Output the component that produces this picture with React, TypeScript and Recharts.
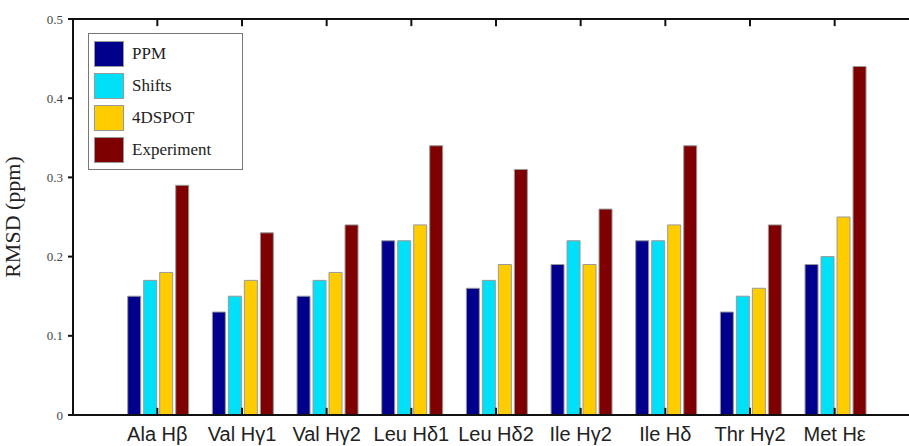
import { BarChart, Bar, XAxis, YAxis, ReferenceLine } from 'recharts';

const categories = ['Ala Hβ', 'Val Hγ1', 'Val Hγ2', 'Leu Hδ1', 'Leu Hδ2', 'Ile Hγ2', 'Ile Hδ', 'Thr Hγ2', 'Met Hε'];
const ppm = [0.15, 0.13, 0.15, 0.22, 0.16, 0.19, 0.22, 0.13, 0.19];
const shifts = [0.17, 0.15, 0.17, 0.22, 0.17, 0.22, 0.22, 0.15, 0.2];
const spot4d = [0.18, 0.17, 0.18, 0.24, 0.19, 0.19, 0.24, 0.16, 0.25];
const experiment = [0.29, 0.23, 0.24, 0.34, 0.31, 0.26, 0.34, 0.24, 0.44];
const yTicks = [0, 0.1, 0.2, 0.3, 0.4, 0.5];

const series = [
    { key: 'ppm', name: 'PPM', color: '#00008c' },
    { key: 'shifts', name: 'Shifts', color: '#00e0f8' },
    { key: 'spot', name: '4DSPOT', color: '#ffcc00' },
    { key: 'exp', name: 'Experiment', color: '#7f0000' },
];

const data = categories.map((name, i) => ({
    name,
    ppm: ppm[i],
    shifts: shifts[i],
    spot: spot4d[i],
    exp: experiment[i],
}));

const serif = '"Liberation Serif", "Times New Roman", serif';
const sans = '"Liberation Sans", Arial, sans-serif';

// inward tick length in data units (~7px)
const TICK = 0.009;

function LegendBox() {
    return (
        <div style={{ position: 'absolute', left: 88, top: 33, border: '1px solid #777', background: '#fff', padding: '4px 10px 3px 5px', width: 138 }}>
            {series.map((s) => (
                <div key={s.key} style={{ display: 'flex', alignItems: 'center', height: 32 }}>
                    <span style={{ width: 28, height: 24, background: s.color, border: '1px solid #999', display: 'inline-block' }} />
                    <span style={{ marginLeft: 8, fontFamily: serif, fontSize: 17, color: '#222' }}>{s.name}</span>
                </div>
            ))}
        </div>
    );
}

export default function App() {
    return (
        <div style={{ position: 'fixed', left: 0, top: 0, width: 909, height: 446, overflow: 'hidden', background: '#fff' }}>
            <BarChart width={909} height={446} data={data} margin={{ top: 19, right: 0, bottom: 0, left: 0 }} barCategoryGap="15%" barGap={3}>
                <XAxis
                    dataKey="name"
                    height={31}
                    padding={{ left: 42, right: 32 }}
                    axisLine={{ stroke: '#111', strokeWidth: 2 }}
                    tickLine={false}
                    tickMargin={6}
                    tick={{ fontFamily: sans, fontSize: 20, fill: '#222' }}
                    interval={0}
                />
                <YAxis
                    width={73}
                    domain={[0, 0.5]}
                    ticks={yTicks}
                    axisLine={{ stroke: '#111', strokeWidth: 2 }}
                    tickLine={{ stroke: '#111', strokeWidth: 2 }}
                    tickSize={5}
                    tickMargin={5}
                    tick={{ fontFamily: serif, fontSize: 13, fill: '#444' }}
                    tickFormatter={(v: number) => (v === 0 ? '0' : v.toFixed(1))}
                    label={{
                        value: 'RMSD (ppm)',
                        angle: -90,
                        position: 'insideLeft',
                        offset: 12,
                        style: { fontFamily: serif, fontSize: 22, fill: '#222', textAnchor: 'middle' },
                    }}
                />
                {series.map((s) => (
                    <Bar key={s.key} dataKey={s.key} name={s.name} fill={s.color} stroke="#999" strokeWidth={1} isAnimationActive={false} />
                ))}
                <ReferenceLine y={0.5} stroke="#111" strokeWidth={2} />
                {categories.map((c) => (
                    <ReferenceLine key={`t-${c}`} segment={[{ x: c, y: 0.5 }, { x: c, y: 0.5 - TICK }]} stroke="#111" strokeWidth={2} />
                ))}
                {categories.map((c) => (
                    <ReferenceLine key={`b-${c}`} segment={[{ x: c, y: 0 }, { x: c, y: TICK }]} stroke="#111" strokeWidth={2} />
                ))}
            </BarChart>
            <LegendBox />
        </div>
    );
}
